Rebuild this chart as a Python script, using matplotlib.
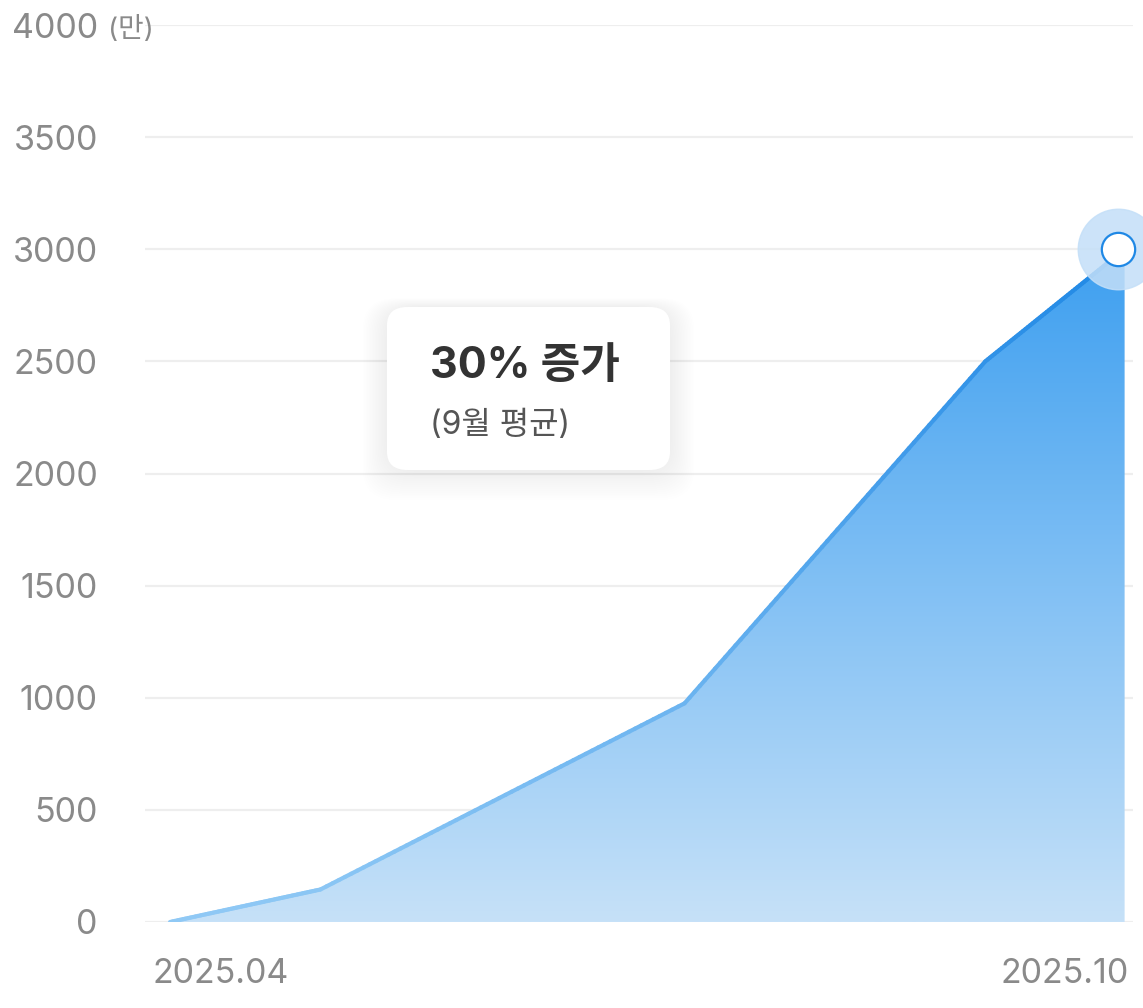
import numpy as np
import matplotlib.pyplot as plt
from matplotlib.collections import LineCollection
from matplotlib.colors import LinearSegmentedColormap
from matplotlib.patches import FancyBboxPatch
from matplotlib.transforms import ScaledTranslation

plt.rcParams['font.family'] = ['Inter', 'Noto Sans CJK KR', 'DejaVu Sans']

# months since 2025.04 and value (만)
months = [0, 0.95, 3.25, 5.15, 6.03]
values = [0, 145, 975, 2500, 3000]
x_labels = ['2025.04', '2025.10']
y_ticks = [0, 500, 1000, 1500, 2000, 2500, 3000, 3500, 4000]
note_title = '30% 증가'
note_sub = '(9월 평균)'

fig = plt.figure(figsize=(11.43, 10.08), dpi=100)
ax = fig.add_axes([145 / 1143, 86 / 1008, 988 / 1143, 897 / 1008])
ax.set_xlim(-0.158, 6.083)
ax.set_ylim(0, 4000)

for s in ax.spines.values():
    s.set_visible(False)
ax.set_yticks(y_ticks)
ax.set_yticklabels([str(v) for v in y_ticks])
ax.tick_params(axis='y', length=0, pad=34, labelsize=24.5, labelcolor='#8a8a8a')
ax.grid(axis='y', color='#eeeeee', linewidth=1.6, zorder=0)
ax.set_axisbelow(True)
# unit label next to the top tick
ax.text(-0.39, 3980, '(만)', fontsize=20, color='#8a8a8a', ha='left', va='center',
        transform=ax.transData, clip_on=False)

ax.set_xticks([0, 6])
ax.set_xticklabels(x_labels)
ax.tick_params(axis='x', length=0, pad=26, labelsize=24.5, labelcolor='#8a8a8a')
lbls = ax.get_xticklabels()
lbls[0].set_ha('left')
lbls[0].set_transform(lbls[0].get_transform() + ScaledTranslation(-0.18, 0, fig.dpi_scale_trans))
lbls[1].set_ha('right')
lbls[1].set_transform(lbls[1].get_transform() + ScaledTranslation(0.09, 0, fig.dpi_scale_trans))

# gradient area
fill_cmap = LinearSegmentedColormap.from_list('fill', ['#c6e1f8', '#3d9ff0'])
poly = ax.fill_between(months, values, 0, color='none', zorder=2)
grad = np.linspace(0, 1, 256).reshape(-1, 1)
img = ax.imshow(grad, cmap=fill_cmap, origin='lower', aspect='auto',
                extent=[months[0], months[-1], 0, max(values)], zorder=2)
img.set_clip_path(poly.get_paths()[0], transform=ax.transData)

# gradient line
line_cmap = LinearSegmentedColormap.from_list('line', ['#90c9f5', '#1f88e5'])
xs, ys = [], []
for i in range(len(months) - 1):
    t = np.linspace(0, 1, 60)
    xs.extend(months[i] + (months[i + 1] - months[i]) * t)
    ys.extend(values[i] + (values[i + 1] - values[i]) * t)
xs, ys = np.array(xs), np.array(ys)
pts = np.column_stack([xs, ys]).reshape(-1, 1, 2)
segs = np.concatenate([pts[:-1], pts[1:]], axis=1)
lc = LineCollection(segs, cmap=line_cmap, linewidth=3, capstyle='round', zorder=3)
lc.set_array((ys[:-1] + ys[1:]) / 2 / max(values))
lc.set_clim(0, 1)
ax.add_collection(lc)

# end marker
ax.plot(months[-1] - 0.04, values[-1], 'o', ms=58, color='#c4dff8', alpha=0.85, zorder=4, clip_on=False)
ax.plot(months[-1] - 0.04, values[-1], 'o', ms=24, mfc='white', mec='#1f88e5', mew=1.6, zorder=5, clip_on=False)

# note box with soft shadow
bx, by, bw, bh = 387 / 1143, 1 - 470 / 1008, 283 / 1143, 163 / 1008
for k in range(16, 0, -1):
    d = k * 0.0022
    fig.patches.append(FancyBboxPatch((bx - d * 0.6, by - d * 0.85), bw + d * 1.2, bh + d * 1.1,
                                      boxstyle='round,pad=0,rounding_size=0.03',
                                      transform=fig.transFigure, facecolor='#000000',
                                      edgecolor='none', alpha=0.0035, zorder=5))
fig.patches.append(FancyBboxPatch((bx, by), bw, bh, boxstyle='round,pad=0,rounding_size=0.018',
                                  transform=fig.transFigure, facecolor='white',
                                  edgecolor='none', zorder=6))
fig.text(430 / 1143, 1 - 366 / 1008, note_title, fontsize=31, fontweight='bold',
         color='#333333', ha='left', va='center', zorder=7)
fig.text(430 / 1143, 1 - 426 / 1008, note_sub, fontsize=23, color='#555555',
         ha='left', va='center', zorder=7)

fig.savefig('out.png', dpi=100)
